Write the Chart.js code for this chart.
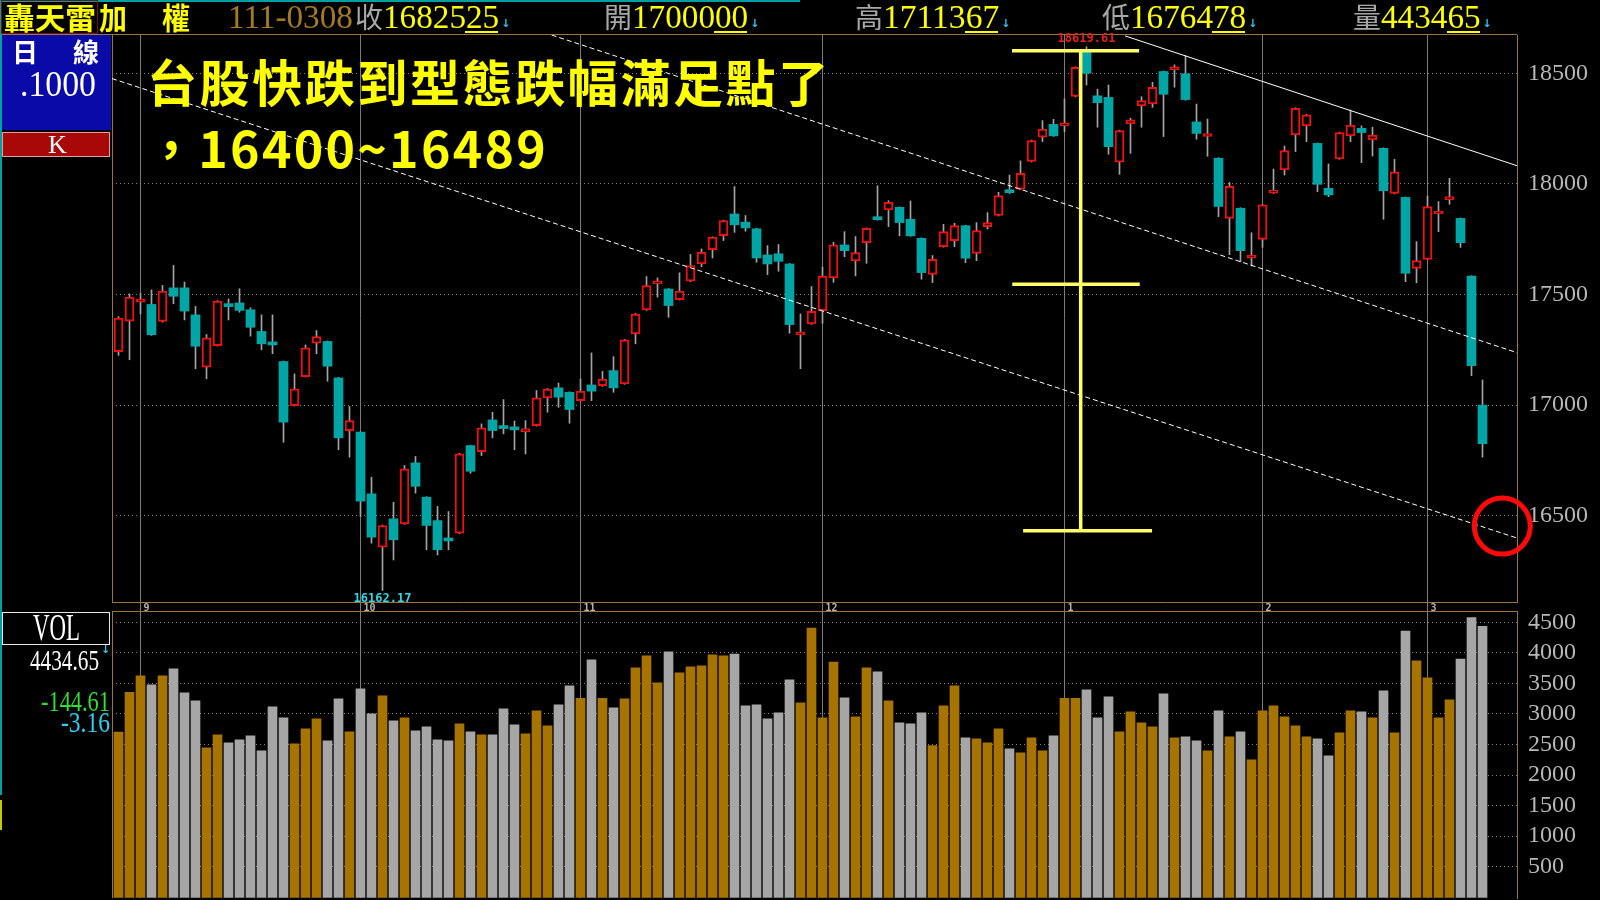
<!DOCTYPE html>
<html>
<head>
<meta charset="utf-8">
<script src="https://cdn.jsdelivr.net/npm/chart.js@4.4.0/dist/chart.umd.min.js"></script>
<style>
  html, body { margin: 0; padding: 0; background: #000; }
  #wrap { position: relative; width: 1600px; height: 900px; overflow: hidden; background: #000; }
  canvas { position: absolute; left: 0; }
  .txt { position: absolute; white-space: nowrap; transform-origin: 0 0; }
  .box { position: absolute; box-sizing: border-box; }
</style>
</head>
<body>
<div id="wrap">
  <canvas id="priceChart" width="1600" height="612" style="top:0"></canvas>
  <canvas id="volChart" width="1600" height="289" style="top:611px"></canvas>
</div>
<script>
// daily candles, index 0 = 8/30 ... index 124 = 3/8
const opens = [17242,17379,17465,17455,17378,17530,17530,17408,17171,17269,
  17449,17462,17431,17333,17276,17197,16998,17129,17280,17288,
  17123,16885,16878,16599,16358,16486,16463,16739,16584,16478,
  16390,16421,16817,16790,16933,16898,16892,16880,16907,17033,
  17078,17058,17020,17091,17088,17156,17096,17322,17430,17548,
  17525,17477,17560,17638,17703,17766,17864,17827,17797,17679,
  17684,17638,17318,17367,17427,17575,17724,17652,17734,17842,
  17882,17894,17840,17754,17591,17716,17743,17811,17686,17807,
  17857,17964,17976,18101,18211,18269,18262,18395,18602,18398,
  18391,18098,18271,18352,18361,18508,18516,18498,18280,18214,
  18116,17844,17890,17664,17749,17958,18063,18221,18262,18183,
  17980,18113,18217,18251,18199,18161,17957,17939,17618,17659,
  17864,17929,17844,17583,17000];
const highs = [17400,17503,17506,17521,17541,17631,17556,17446,17319,17472,
  17480,17526,17440,17408,17408,17199,17141,17272,17337,17290,
  17125,16994,16880,16674,16458,16561,16727,16768,16586,16542,
  16519,16782,16819,16915,16968,17025,16928,16930,17066,17075,
  17100,17060,17118,17236,17152,17219,17297,17414,17581,17575,
  17527,17598,17681,17706,17761,17836,17988,17857,17799,17721,
  17726,17640,17412,17536,17623,17736,17784,17762,17801,17991,
  17924,17896,17923,17756,17676,17817,17822,17813,17825,17870,
  17962,18040,18104,18198,18286,18292,18384,18529,18619.61,18428,
  18447,18243,18297,18394,18459,18510,18538,18580,18361,18293,
  18118,18006,17892,17779,17907,18067,18171,18344,18314,18185,
  18090,18234,18334,18262,18256,18163,18111,17941,17739,17945,
  17920,18025,17846,17585,17113.67];
const lows = [17225,17205,17413,17315,17375,17458,17385,17164,17119,17267,
  17385,17420,17312,17250,17232,16832,16996,17127,17232,17108,
  16798,16765,16496,16376,16162.17,16300,16461,16602,16346,16323,
  16346,16419,16692,16772,16852,16870,16798,16779,16905,16968,
  16990,16918,17018,17020,17085,17058,17094,17277,17428,17488,
  17397,17475,17558,17626,17665,17744,17781,17786,17646,17590,
  17605,17325,17164,17365,17370,17555,17671,17584,17641,17836,
  17807,17765,17763,17569,17554,17714,17716,17644,17653,17796,
  17855,17957,17974,18099,18191,18215,18236,18393,18447,18256,
  18134,18043,18138,18256,18346,18214,18437,18378,18202,18125,
  17852,17680,17648,17629,17713,17957,18040,18146,18191,17965,
  17942,18111,18191,18096,18126,17840,17955,17558,17553,17657,
  17784,17908,17713,17133,16764.78];
const closes = [17393,17488,17470,17318,17515,17492,17425,17266,17304,17470,
  17445,17428,17352,17277,17272,16923,17074,17259,17310,17176,
  16852,16930,16566,16403,16456,16391,16712,16633,16456,16346,
  16386,16780,16701,16897,16885,16894,16888,16886,17033,17073,
  17036,16980,17063,17063,17118,17078,17295,17412,17540,17556,
  17450,17515,17631,17691,17759,17834,17815,17801,17665,17638,
  17650,17364,17326,17424,17583,17724,17698,17689,17799,17838,
  17917,17825,17765,17599,17659,17784,17811,17664,17789,17825,
  17947,17960,18048,18196,18248,18217,18270,18527,18500,18367,
  18168,18241,18289,18376,18437,18405,18522,18381,18228,18220,
  17898,17989,17698,17670,17905,17964,18150,18342,18312,17998,
  17950,18232,18266,18232,18221,17969,18055,17596,17653,17897,
  17870,17935,17734,17178,16825.25];
// volume in 100 million NTD
const volumes = [2702,3355,3623,3475,3623,3737,3345,3214,2445,2658,
  2527,2576,2642,2396,3116,2936,2511,2756,2920,2560,
  3247,2707,3410,3001,3296,2887,2936,2723,2789,2576,
  2560,2838,2707,2658,2658,3083,2821,2674,3050,2805,
  3149,3459,3257,3884,3257,3099,3247,3753,3950,3508,
  4015,3672,3770,3786,3966,3950,3982,3132,3149,2920,
  3018,3557,3181,4407,2936,3851,3263,2952,3753,3688,
  3214,2854,2838,3018,2484,3132,3459,2609,2593,2527,
  2756,2429,2364,2609,2396,2642,3257,3257,3394,2936,
  3279,2707,3034,2854,2789,3328,2609,2625,2560,2396,
  3050,2625,2707,2249,3050,3132,2952,2805,2625,2593,
  2315,2691,3050,3034,2936,3377,2691,4358,3868,3590,
  2936,3230,3900,4579.26,4434.65];

const monthStart = [2, 22, 42, 64, 86, 104, 119];
const monthLabels = ['9', '10', '11', '12', '1', '2', '3'];
const priceTicks = [16500, 17000, 17500, 18000, 18500];
const volTicks = [500, 1000, 1500, 2000, 2500, 3000, 3500, 4000, 4500];

// drawn lines, in (candle index, price)
const trendTop = [{ x: 91.5, y: 18669 }, { x: 127.14, y: 18082 }];
const channelUpper = [{ x: 39.37, y: 18673 }, { x: 127.14, y: 17237 }];
const channelLower = [{ x: -0.59, y: 18476 }, { x: 127.14, y: 16399 }];
const measureStem = [{ x: 87.47, y: 18602 }, { x: 87.47, y: 16432 }];
const measureTop = [{ x: 81.23, y: 18602 }, { x: 92.78, y: 18602 }];
const measureMid = [{ x: 81.25, y: 17546 }, { x: 92.84, y: 17546 }];
const measureLow = [{ x: 82.24, y: 16432 }, { x: 93.96, y: 16432 }];
const targetZone = [{ x: 125.8, y: 16453 }];

const RED = '#f01010';
const TEAL = '#00a6a6';
const WICK = '#a4a4a4';
const FRAME = '#9c7440';
const X_MIN = -0.5909, X_MAX = 127.1364;

const isUp = closes.map((c, i) => c >= opens[i]);

const framePlugin = {
  id: 'frame',
  beforeDatasetsDraw(chart, args, opts) {
    const { ctx, chartArea: a } = chart;
    ctx.save();
    ctx.strokeStyle = FRAME;
    ctx.lineWidth = 1;
    ctx.beginPath();
    ctx.moveTo(opts.topFrom, a.top + opts.topShift);
    ctx.lineTo(a.right, a.top + opts.topShift);
    ctx.moveTo(a.left + 0.5, a.top);
    ctx.lineTo(a.left + 0.5, a.bottom);
    ctx.stroke();
    ctx.restore();
  }
};

const extremePlugin = {
  id: 'extremes',
  afterDatasetsDraw(chart) {
    const { ctx, scales: { x, y } } = chart;
    const hi = highs.indexOf(Math.max(...highs));
    const lo = lows.indexOf(Math.min(...lows));
    ctx.save();
    ctx.font = 'bold 12px "DejaVu Sans Mono"';
    ctx.textAlign = 'center';
    ctx.fillStyle = '#e82020';
    ctx.textBaseline = 'bottom';
    ctx.fillText(highs[hi].toFixed(2), x.getPixelForValue(hi), y.getPixelForValue(highs[hi]) - 2);
    ctx.fillStyle = '#30d8e8';
    ctx.textBaseline = 'top';
    ctx.fillText(lows[lo].toFixed(2), x.getPixelForValue(lo), y.getPixelForValue(lows[lo]) + 2);
    ctx.restore();
  }
};

const lineSet = (data, color, width, dash, order) => ({
  type: 'line', data, borderColor: color, borderWidth: width, borderDash: dash,
  pointRadius: 0, tension: 0, fill: false, order
});

const monthAxis = (showLabels, height) => ({
  type: 'linear', min: X_MIN, max: X_MAX, offset: false,
  grid: { offset: false, color: '#7c7c7c', lineWidth: 1, drawTicks: showLabels, tickLength: 9, tickColor: '#7c7c7c' },
  border: { display: showLabels, color: FRAME, width: 1 },
  afterBuildTicks: s => { s.ticks = monthStart.map(v => ({ value: v })); },
  ticks: {
    display: showLabels, autoSkip: false, maxRotation: 0, align: 'start', labelOffset: 3, padding: -9,
    color: '#b4b4b4', font: { family: 'DejaVu Sans Mono', size: 10, weight: 'bold' },
    callback: v => monthLabels[monthStart.indexOf(v)]
  },
  afterFit: s => { s.height = height; s.paddingLeft = 0; s.paddingRight = 0; }
});

const valueAxis = (min, max, tickList) => ({
  position: 'right', min, max, stacked: false,
  grid: { color: '#858585', drawTicks: false },
  border: { color: FRAME, width: 1, dash: [1, 3] },
  afterBuildTicks: s => { s.ticks = tickList.map(v => ({ value: v })); },
  ticks: { autoSkip: false, padding: 11, color: '#b8b8b8', font: { family: 'Liberation Serif', size: 24 }, callback: v => String(v) },
  afterFit: s => { s.width = 83; s.paddingTop = 0; s.paddingBottom = 0; }
});

new Chart(document.getElementById('priceChart'), {
  type: 'bar',
  data: {
    datasets: [
      {
        type: 'line', data: targetZone, showLine: false, clip: false, order: 0,
        pointRadius: 28, pointHoverRadius: 28, pointBorderWidth: 5,
        pointBorderColor: '#ff0a0a', pointBackgroundColor: 'rgba(0,0,0,0)'
      },
      lineSet(measureStem, '#ffff66', 3.5, [], 1),
      lineSet(measureTop, '#ffff66', 3.5, [], 1),
      lineSet(measureMid, '#ffff66', 3.5, [], 1),
      lineSet(measureLow, '#ffff66', 3.5, [], 1),
      lineSet(trendTop, '#ffffff', 1, [], 2),
      lineSet(channelUpper, '#ffffff', 1, [5, 3], 2),
      lineSet(channelLower, '#ffffff', 1, [5, 3], 2),
      {
        label: 'K', order: 3, grouped: false, barThickness: 9, minBarLength: 3, borderSkipped: false,
        data: opens.map((o, i) => ({ x: i, y: [o, closes[i]] })),
        backgroundColor: isUp.map(u => u ? '#000000' : TEAL),
        borderColor: isUp.map(u => u ? RED : TEAL),
        borderWidth: isUp.map(u => u ? 2 : 0)
      },
      {
        label: 'HL', order: 4, grouped: false, barThickness: 1, borderWidth: 0,
        data: lows.map((l, i) => ({ x: i, y: [l, highs[i]] })),
        backgroundColor: WICK
      }
    ]
  },
  options: {
    responsive: false, animation: false, devicePixelRatio: 1, events: [],
    layout: { autoPadding: false, padding: { left: 112, top: 35, right: 0, bottom: 0 } },
    plugins: { legend: { display: false }, tooltip: { enabled: false }, frame: { topFrom: 0, topShift: -0.5 } },
    scales: {
      x: monthAxis(true, 10),
      y: valueAxis(16110, 18673, priceTicks)
    }
  },
  plugins: [framePlugin, extremePlugin]
});

new Chart(document.getElementById('volChart'), {
  type: 'bar',
  data: {
    datasets: [{
      label: 'VOL', grouped: false, barThickness: 9, borderWidth: 0,
      data: volumes.map((v, i) => ({ x: i, y: v })),
      backgroundColor: isUp.map(u => u ? '#a87400' : '#a6a6a6')
    }]
  },
  options: {
    responsive: false, animation: false, devicePixelRatio: 1, events: [],
    layout: { autoPadding: false, padding: { left: 112, top: 0, right: 0, bottom: 0 } },
    plugins: { legend: { display: false }, tooltip: { enabled: false }, frame: { topFrom: 112, topShift: 0.5 } },
    scales: {
      x: monthAxis(false, 2),
      y: valueAxis(-11.5, 4685, volTicks)
    }
  },
  plugins: [framePlugin]
});

// quote-screen text around the chart
const wrap = document.getElementById('wrap');

function box(x, y, w, h, style) {
  const el = document.createElement('div');
  el.className = 'box';
  Object.assign(el.style, { left: x + 'px', top: y + 'px', width: w + 'px', height: h + 'px' }, style);
  wrap.appendChild(el);
  return el;
}

function text(str, x, y, font, color, fitWidth, extra) {
  const el = document.createElement('div');
  el.className = 'txt';
  el.textContent = str;
  Object.assign(el.style, { left: x + 'px', top: y + 'px', font, color }, extra || {});
  wrap.appendChild(el);
  if (fitWidth) {
    const w = el.getBoundingClientRect().width;
    el.style.transform = 'scaleX(' + (fitWidth / w) + ')';
  }
  return el;
}

const SERIF = '"Liberation Serif"';
const CJK = '"Noto Sans CJK TC"';

box(0, 0, 2, 795, { background: '#00a0a0' });
box(0, 0, 800, 2, { background: '#00a0a0' });
box(0, 800, 2, 30, { background: '#c8c800' });

// header row
box(1, 0, 97, 34, { border: '1px solid #7a1010' });
text('轟天雷', 4, 1, `bold 30px/1 ${CJK}`, '#ffff00', 92);
text('加', 99, 1, `bold 30px/1 ${CJK}`, '#ffff00', 28);
text('權', 162, 1, `bold 30px/1 ${CJK}`, '#ffff00', 28);
text('111-0308', 228, 0, `34px/1 ${SERIF}`, '#a47a24', 125);

const quotes = [
  { tag: '收', value: '1682525', x: 355 },
  { tag: '開', value: '1700000', x: 604 },
  { tag: '高', value: '1711367', x: 855 },
  { tag: '低', value: '1676478', x: 1102 },
  { tag: '量', value: '443465', x: 1353 }
];
quotes.forEach(q => {
  const w = q.value.length * 16.6;
  text(q.tag, q.x, 2, `28px/1 ${CJK}`, '#a8a8a8', 28);
  text(q.value, q.x + 28, 0, `34px/1 ${SERIF}`, '#ffff00', w);
  box(q.x + 28 + w - 34, 31, 33, 1.5, { background: '#ffff00' });
  text('↓', q.x + 28 + w + 2, 18, 'bold 11px/1 "DejaVu Sans"', '#30c8f0');
});

// left info panel
box(2, 35, 109, 95, { background: '#0a0aa8' });
text('日', 12, 38, `bold 26px/1 ${CJK}`, '#ffffff');
text('線', 73, 38, `bold 26px/1 ${CJK}`, '#ffffff');
text('.1000', 20, 66, `36px/1 ${SERIF}`, '#ffffff', 76);
box(2, 132, 108, 25, { background: '#a80808', border: '1px solid #e0a0a0' });
text('K', 48, 132, `26px/1 ${SERIF}`, '#ffffff');

box(2, 612, 108, 33, { border: '1px solid #e8e8e8' });
text('VOL', 33, 608, `38px/1 ${SERIF}`, '#ffffff', 47);
text('4434.65', 30, 646, `29px/1 ${SERIF}`, '#ffffff', 69);
text('↓', 101, 644, 'bold 11px/1 "DejaVu Sans"', '#30c8f0');
text('-144.61', 41, 686, `30px/1 ${SERIF}`, '#33dd33', 69);
text('-3.16', 61, 707, `30px/1 ${SERIF}`, '#30d0f0', 49);

// caption
text('台股快跌到型態跌幅滿足點了', 147, 55, `bold 50px/1 ${CJK}`, '#ffff00', null, { letterSpacing: '2.6px' });
text('，16400~16489', 146, 121, `bold 50px/1 ${CJK}`, '#ffff00', null, { letterSpacing: '2.3px' });
</script>
</body>
</html>
